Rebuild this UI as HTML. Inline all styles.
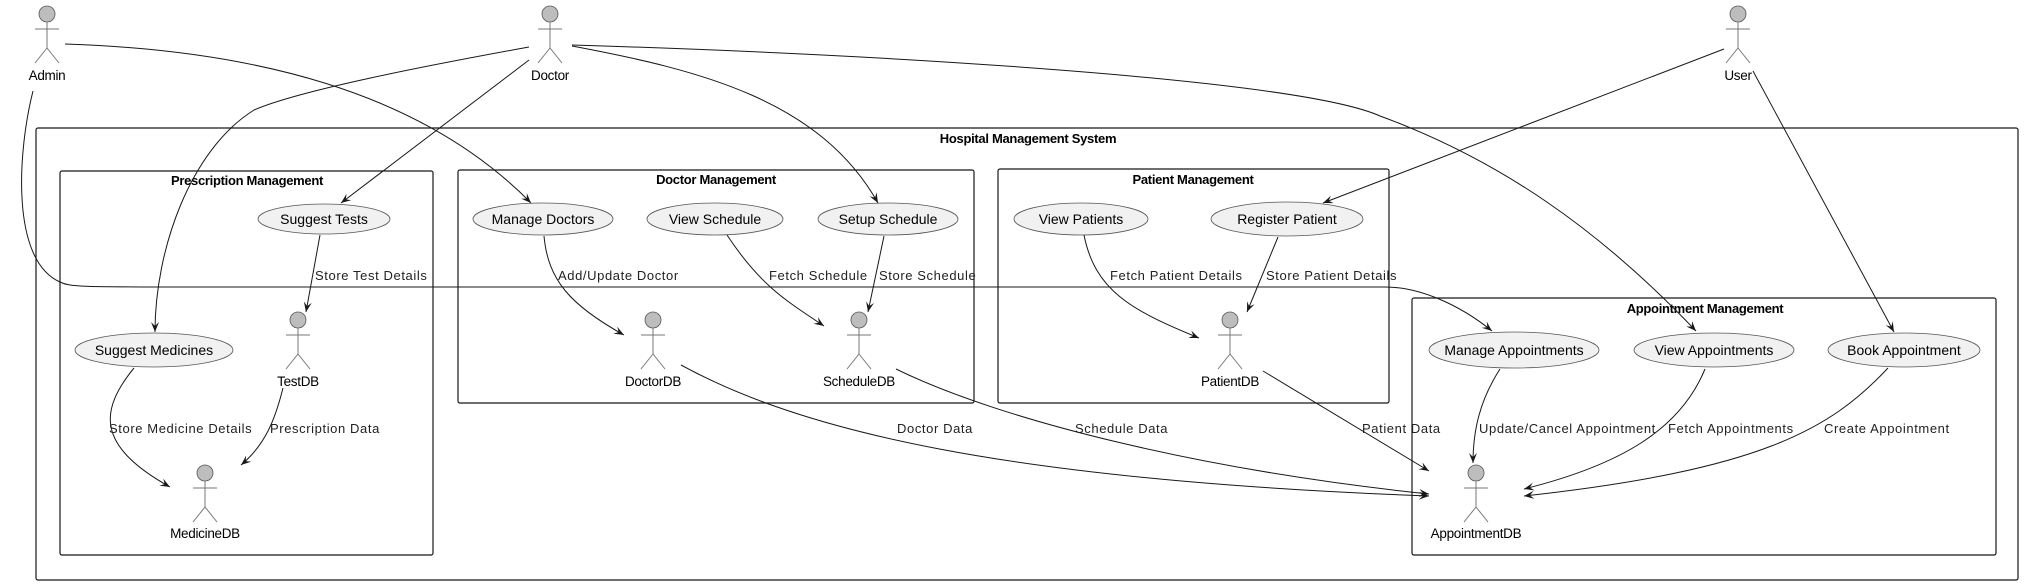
<!DOCTYPE html>
<html><head><meta charset="utf-8"><style>
html,body{margin:0;padding:0;background:#fff;}
svg{display:block;}
text{font-family:"Liberation Sans",sans-serif;fill:#000;}
.t{font-size:14px;text-anchor:middle;}
.b{font-size:13px;font-weight:bold;text-anchor:middle;letter-spacing:-0.3px;}
.l{font-size:13px;letter-spacing:0.6px;fill:#222;}
.a{font-size:13.5px;text-anchor:middle;letter-spacing:-0.3px;}
.e{fill:#f1f1f1;stroke:#555;stroke-width:0.8;}
.c{fill:none;stroke:#181818;stroke-width:1;}
.box{fill:none;stroke:#181818;stroke-width:1.2;}
</style></head><body>
<svg width="2026" height="585" viewBox="0 0 2026 585" xmlns="http://www.w3.org/2000/svg">
<defs>
<marker id="ar" markerWidth="12" markerHeight="10" refX="10" refY="4" orient="auto" markerUnits="userSpaceOnUse">
<path d="M0,0 L10,4 L0,8 L4,4 Z" fill="#181818"/>
</marker>
<g id="act">
<ellipse cx="0" cy="0" rx="8" ry="8" fill="#bdbdbd" stroke="#555" stroke-width="0.8"/>
<line x1="0" y1="8" x2="0" y2="34" stroke="#777"/>
<line x1="-12" y1="15" x2="12" y2="15" stroke="#777"/>
<line x1="0" y1="34" x2="-12" y2="49" stroke="#777"/>
<line x1="0" y1="34" x2="12" y2="49" stroke="#777"/>
</g>
</defs>

<!-- boxes -->
<rect class="box" x="36" y="128" width="1982" height="452" rx="2"/>
<text class="b" x="1028" y="143">Hospital Management System</text>
<rect class="box" x="60" y="171" width="373" height="384" rx="2"/>
<text class="b" x="247" y="185">Prescription Management</text>
<rect class="box" x="458" y="170" width="516" height="233" rx="2"/>
<text class="b" x="716" y="184">Doctor Management</text>
<rect class="box" x="998" y="169" width="391" height="234" rx="2"/>
<text class="b" x="1193" y="184">Patient Management</text>
<rect class="box" x="1412" y="298" width="584" height="257" rx="2"/>
<text class="b" x="1705" y="313">Appointment Management</text>

<!-- actors -->
<use href="#act" x="47" y="14"/><text class="a" x="47" y="80">Admin</text>
<use href="#act" x="550" y="14"/><text class="a" x="550" y="80">Doctor</text>
<use href="#act" x="1738" y="14"/><text class="a" x="1738" y="80">User</text>
<use href="#act" x="298" y="320"/><text class="a" x="298" y="386">TestDB</text>
<use href="#act" x="205" y="473"/><text class="a" x="205" y="538">MedicineDB</text>
<use href="#act" x="653" y="320"/><text class="a" x="653" y="386">DoctorDB</text>
<use href="#act" x="859" y="320"/><text class="a" x="859" y="386">ScheduleDB</text>
<use href="#act" x="1230" y="320"/><text class="a" x="1230" y="386">PatientDB</text>
<use href="#act" x="1476" y="473"/><text class="a" x="1476" y="538">AppointmentDB</text>

<!-- ellipses -->
<ellipse class="e" cx="324" cy="219" rx="66" ry="15"/><text class="t" x="324" y="224">Suggest Tests</text>
<ellipse class="e" cx="154" cy="350" rx="79" ry="17"/><text class="t" x="154" y="355">Suggest Medicines</text>
<ellipse class="e" cx="543" cy="219" rx="70" ry="16"/><text class="t" x="543" y="224">Manage Doctors</text>
<ellipse class="e" cx="715" cy="219" rx="68" ry="16"/><text class="t" x="715" y="224">View Schedule</text>
<ellipse class="e" cx="888" cy="219" rx="70" ry="16"/><text class="t" x="888" y="224">Setup Schedule</text>
<ellipse class="e" cx="1081" cy="219" rx="67" ry="16"/><text class="t" x="1081" y="224">View Patients</text>
<ellipse class="e" cx="1287" cy="219" rx="76" ry="17"/><text class="t" x="1287" y="224">Register Patient</text>
<ellipse class="e" cx="1514" cy="350" rx="85" ry="18"/><text class="t" x="1514" y="355">Manage Appointments</text>
<ellipse class="e" cx="1714" cy="350" rx="80" ry="17"/><text class="t" x="1714" y="355">View Appointments</text>
<ellipse class="e" cx="1904" cy="350" rx="76" ry="17"/><text class="t" x="1904" y="355">Book Appointment</text>

<!-- connectors -->
<path class="c" marker-end="url(#ar)" d="M65,44 C250,50 420,90 531,203"/>
<path class="c" marker-end="url(#ar)" d="M33,91 C18,150 10,260 60,282 C70,287 80,287 200,287 L1385,287 C1420,287 1460,305 1492,331"/>
<path class="c" marker-end="url(#ar)" d="M529,47 C430,65 300,90 254,110 C190,150 155,250 155,332"/>
<path class="c" marker-end="url(#ar)" d="M529,60 L341,203"/>
<path class="c" marker-end="url(#ar)" d="M572,46 C700,70 820,100 878,203"/>
<path class="c" marker-end="url(#ar)" d="M572,45 C900,55 1300,80 1380,116 C1500,160 1600,230 1696,331"/>
<path class="c" marker-end="url(#ar)" d="M1724,49 L1323,203"/>
<path class="c" marker-end="url(#ar)" d="M1753,71 L1894,332"/>

<path class="c" marker-end="url(#ar)" d="M320,235 L306,312"/>
<path class="c" marker-end="url(#ar)" d="M134,368 C100,410 95,445 170,487"/>
<path class="c" marker-end="url(#ar)" d="M283,388 C275,420 265,445 241,465"/>
<path class="c" marker-end="url(#ar)" d="M544,236 C548,280 570,305 624,335"/>
<path class="c" marker-end="url(#ar)" d="M727,235 C760,285 785,300 824,326"/>
<path class="c" marker-end="url(#ar)" d="M884,236 L868,312"/>
<path class="c" marker-end="url(#ar)" d="M1084,235 C1095,290 1130,310 1199,338"/>
<path class="c" marker-end="url(#ar)" d="M1278,237 L1247,312"/>

<path class="c" marker-end="url(#ar)" d="M681,365 C800,430 1000,480 1429,496"/>
<path class="c" marker-end="url(#ar)" d="M896,369 C1000,420 1200,470 1429,494"/>
<path class="c" marker-end="url(#ar)" d="M1263,371 L1429,471"/>
<path class="c" marker-end="url(#ar)" d="M1500,369 C1480,400 1473,430 1473,463"/>
<path class="c" marker-end="url(#ar)" d="M1705,369 C1680,430 1620,465 1524,489"/>
<path class="c" marker-end="url(#ar)" d="M1888,368 C1830,430 1760,470 1524,496"/>

<!-- labels -->
<text class="l" x="315" y="280">Store Test Details</text>
<text class="l" x="109" y="433">Store Medicine Details</text>
<text class="l" x="270" y="433">Prescription Data</text>
<text class="l" x="558" y="280">Add/Update Doctor</text>
<text class="l" x="769" y="280">Fetch Schedule</text>
<text class="l" x="879" y="280">Store Schedule</text>
<text class="l" x="1110" y="280">Fetch Patient Details</text>
<text class="l" x="1266" y="280">Store Patient Details</text>
<text class="l" x="897" y="433">Doctor Data</text>
<text class="l" x="1075" y="433">Schedule Data</text>
<text class="l" x="1362" y="433">Patient Data</text>
<text class="l" x="1479" y="433">Update/Cancel Appointment</text>
<text class="l" x="1668" y="433">Fetch Appointments</text>
<text class="l" x="1824" y="433">Create Appointment</text>
</svg>
</body></html>
